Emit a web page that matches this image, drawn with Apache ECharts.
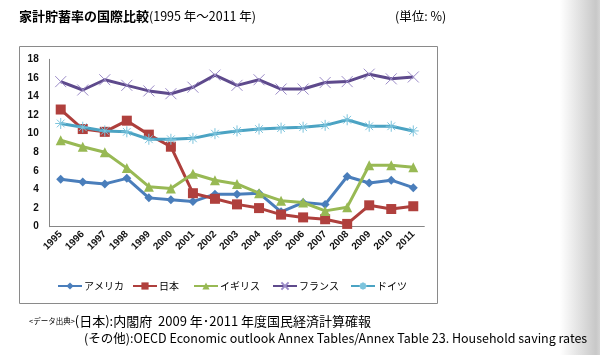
<!DOCTYPE html>
<html>
<head>
<meta charset="utf-8">
<script src="https://cdn.jsdelivr.net/npm/echarts@6/dist/echarts.min.js"></script>
<style>
html,body{margin:0;padding:0;background:#fff;}
#c{width:600px;height:355px;}
</style>
</head>
<body>
<div id="c"></div>
<script>
var years = ['1995','1996','1997','1998','1999','2000','2001','2002','2003','2004','2005','2006','2007','2008','2009','2010','2011'];
var seriesNames = ['アメリカ','日本','イギリス','フランス','ドイツ'];
var usa     = [5.1,4.8,4.6,5.2,3.1,2.9,2.7,3.5,3.5,3.6,1.6,2.6,2.4,5.4,4.7,5.0,4.2];
var japan   = [12.6,10.5,10.2,11.4,9.9,8.6,3.6,3.0,2.4,2.0,1.3,1.0,0.8,0.3,2.3,1.9,2.2];
var uk      = [9.3,8.6,8.0,6.3,4.3,4.1,5.7,5.0,4.6,3.6,2.8,2.6,1.7,2.1,6.6,6.6,6.4];
var france  = [15.6,14.7,15.8,15.2,14.6,14.3,15.0,16.3,15.2,15.8,14.8,14.8,15.5,15.6,16.4,15.9,16.1];
var germany = [11.1,10.7,10.3,10.2,9.4,9.4,9.5,10.0,10.3,10.5,10.6,10.7,10.9,11.5,10.8,10.8,10.3];
var yMin = 0, yMax = 18, yStep = 2;

var FONT = '"Noto Sans CJK JP", "Liberation Sans", sans-serif';
var XPATH = 'path://M0,0L10,10M10,0L0,10';
var ASTER = 'path://M0,5L10,5M5,0L5,10M1.5,1.5L8.5,8.5M8.5,1.5L1.5,8.5';

var styles = [
  {line:'#4A7EBB', sym:'diamond', size:9, fill:'#4A7EBB', border:'#4A7EBB', bw:0},
  {line:'#AE3F3C', sym:'rect', size:10, fill:'#B0403D', border:'#B0403D', bw:0},
  {line:'#98B954', sym:'triangle', size:10, fill:'#98B954', border:'#98B954', bw:0},
  {line:'#5E4A8C', sym:XPATH, size:11, fill:'none', border:'#9C8CC8', bw:1},
  {line:'#4BA3C3', sym:ASTER, size:11, fill:'none', border:'#7CC4DD', bw:1}
];
var dataSets = [usa, japan, uk, france, germany];

var series = dataSets.map(function(d, i){
  var s = styles[i];
  return {
    name: seriesNames[i],
    type: 'line',
    data: d,
    symbol: s.sym,
    symbolSize: s.size,
    symbolKeepAspect: true,
    showAllSymbol: true,
    lineStyle: {color: s.line, width: 3},
    itemStyle: {color: s.fill === 'none' ? 'rgba(0,0,0,0)' : s.fill, borderColor: s.border, borderWidth: s.bw},
    emphasis: {disabled: true},
    animation: false,
    z: 2 + i
  };
});

var legendX = [57, 132, 193, 272, 350];
var legends = seriesNames.map(function(n, i){
  return {
    data: [n],
    left: legendX[i],
    top: 281,
    itemWidth: 24,
    itemHeight: 9,
    itemGap: 0,
    textStyle: {fontFamily: FONT, fontSize: 10, color: '#000', padding: [0,0,0,-3]},
    padding: 0,
    selectedMode: false
  };
});

var chart = echarts.init(document.getElementById('c'));
chart.setOption({
  animation: false,
  backgroundColor: '#fff',
  grid: {left: 49.7, top: 59.3, width: 374.6, height: 167.4, containLabel: false},
  xAxis: {
    type: 'category',
    data: years,
    boundaryGap: true,
    axisLine: {lineStyle: {color: '#868686', width: 1}},
    axisTick: {show: false},
    axisLabel: {rotate: 45, fontSize: 10, fontWeight: 'bold', color: '#111', fontFamily: '"Liberation Sans", sans-serif', margin: 6, interval: 0}
  },
  yAxis: {
    type: 'value',
    min: yMin, max: yMax, interval: yStep,
    splitLine: {show: false},
    axisLine: {show: true, lineStyle: {color: '#868686', width: 1}},
    axisTick: {show: false},
    axisLabel: {fontSize: 10, fontWeight: 'bold', color: '#111', fontFamily: '"Liberation Sans", sans-serif', margin: 11}
  },
  legend: legends,
  series: series,
  graphic: [
    {type: 'rect', shape: {x: 19.5, y: 46.5, width: 418, height: 257}, style: {fill: 'none', stroke: '#8a8a8a', lineWidth: 1}, z: 0, silent: true},
    {type: 'rect', shape: {x: 560, y: 0, width: 40, height: 355}, style: {fill: new echarts.graphic.LinearGradient(0,0,1,0,[{offset:0,color:'rgba(255,255,255,1)'},{offset:0.9,color:'#c8c8c8'},{offset:1,color:'#d4d4d4'}])}, z: 0, silent: true},
    {type: 'text', left: 19, top: 10, style: {
      text: '{a|家計貯蓄率の国際比較}{b|(1995 年～2011 年)}',
      rich: {
        a: {fontFamily: FONT, fontSize: 13, fontWeight: 'bold', fill: '#000', color: '#000'},
        b: {fontFamily: FONT, fontSize: 12.5, fill: '#000', color: '#000'}
      }
    }, z: 10},
    {type: 'text', left: 395, top: 10, style: {text: '(単位: %)', fontFamily: FONT, fontSize: 12.5, fill: '#000'}, z: 10},
    {type: 'text', left: 29, top: 315, style: {
      text: '{s|<データ出典>}{m|(日本):内閣府  2009 年･2011 年度国民経済計算確報}',
      rich: {
        s: {fontFamily: FONT, fontSize: 7.5, fill: '#000', color: '#000'},
        m: {fontFamily: FONT, fontSize: 13, fill: '#000', color: '#000'}
      }
    }, z: 10},
    {type: 'text', left: 84, top: 332, style: {text: '(その他):OECD Economic outlook Annex Tables/Annex Table 23. Household saving rates', fontFamily: FONT, fontSize: 12.5, fill: '#000'}, z: 10}
  ]
});
</script>
</body>
</html>
